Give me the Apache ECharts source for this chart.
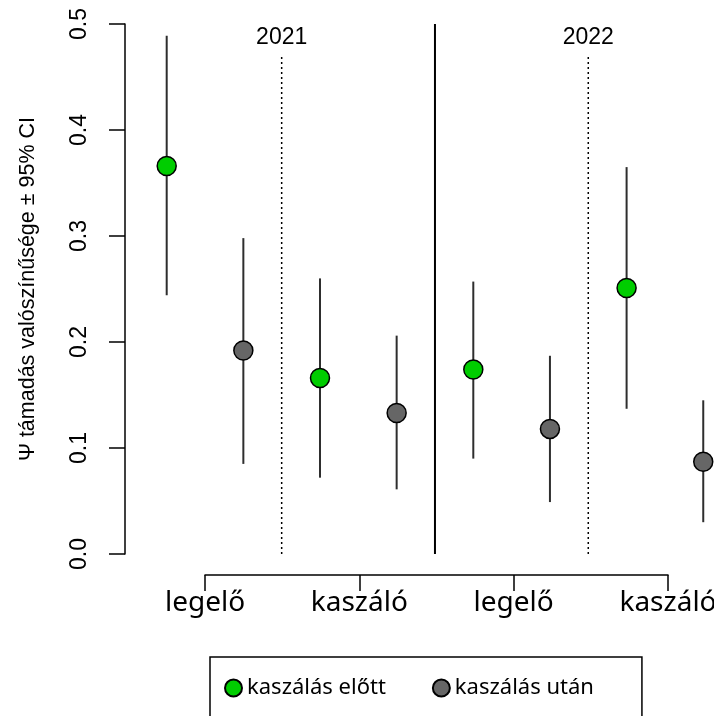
<!DOCTYPE html>
<html>
<head>
<meta charset="utf-8">
<script src="https://cdn.jsdelivr.net/npm/echarts@6/dist/echarts.min.js"></script>
<style>
  html, body { margin: 0; padding: 0; background: #fff; }
  #chart { width: 714px; height: 716px; }
</style>
</head>
<body>
<div id="chart"></div>
<script>
// Occupancy (Ψ) estimates with 95% CI, before / after mowing,
// for pasture (legelő) and meadow (kaszáló) plots in two years.
const years = ['2021', '2022'];
const habitats = ['legelő', 'kaszáló', 'legelő', 'kaszáló'];
const groupNames = ['kaszálás előtt', 'kaszálás után'];

const psiBefore = [0.366, 0.166, 0.174, 0.251];
const lowBefore = [0.244, 0.072, 0.090, 0.137];
const highBefore = [0.489, 0.260, 0.257, 0.365];

const psiAfter = [0.192, 0.133, 0.118, 0.087];
const lowAfter = [0.085, 0.061, 0.049, 0.030];
const highAfter = [0.298, 0.206, 0.187, 0.145];

const yTicks = [0, 0.1, 0.2, 0.3, 0.4, 0.5];

const AXIS_FONT = 'Liberation Sans, Arial, sans-serif';
const LABEL_FONT = 'Noto Sans, DejaVu Sans, sans-serif';
const GREEN = '#00cd00';
const GREY = '#666666';
const OFFSET = 0.25; // horizontal shift of the two groups around each habitat

// habitat i sits at x = i + 1; before/after are shifted left/right
const xPos = (i, g) => i + 1 + (g === 0 ? -OFFSET : OFFSET);

const pointsBefore = psiBefore.map((v, i) => [xPos(i, 0), v]);
const pointsAfter = psiAfter.map((v, i) => [xPos(i, 1), v]);
const barsBefore = psiBefore.map((v, i) => [xPos(i, 0), lowBefore[i], highBefore[i]]);
const barsAfter = psiAfter.map((v, i) => [xPos(i, 1), lowAfter[i], highAfter[i]]);

// separators: dotted between habitats of one year, solid between years
const perYear = habitats.length / years.length;
const separators = [];
for (let k = 1; k < habitats.length; k++) {
  const betweenYears = k % perYear === 0;
  separators.push([k + 0.5, 0, betweenYears ? 0.5 : 0.47, betweenYears ? 0 : 1]);
}
const yearLabels = years.map((y, j) => [j * perYear + (perYear + 1) / 2, 0.487, y]);

function errorBar(params, api) {
  const a = api.coord([api.value(0), api.value(1)]);
  const b = api.coord([api.value(0), api.value(2)]);
  return {
    type: 'line',
    shape: { x1: a[0], y1: a[1], x2: b[0], y2: b[1] },
    style: { stroke: '#2e2e2e', lineWidth: 2 }
  };
}

function separatorLine(params, api) {
  const a = api.coord([api.value(0), api.value(1)]);
  const b = api.coord([api.value(0), api.value(2)]);
  const dotted = api.value(3) === 1;
  return {
    type: 'line',
    shape: { x1: a[0], y1: a[1], x2: b[0], y2: b[1] },
    style: {
      stroke: '#000',
      lineWidth: dotted ? 1.5 : 2,
      lineDash: dotted ? [2, 3] : null
    }
  };
}

function yearText(params, api) {
  const p = api.coord([api.value(0), api.value(1)]);
  return {
    type: 'text',
    x: p[0], y: p[1],
    style: {
      text: yearLabels[params.dataIndex][2],
      font: '23px ' + AXIS_FONT,
      fill: '#000',
      textAlign: 'center',
      textVerticalAlign: 'middle'
    }
  };
}

const chart = echarts.init(document.getElementById('chart'), null, { renderer: 'canvas' });

chart.setOption({
  animation: false,
  backgroundColor: '#fff',
  grid: [
    { left: 125, top: 24, width: 580, height: 530, outerBoundsMode: 'none', containLabel: false },
    { left: 205, top: 574, width: 463, height: 1, outerBoundsMode: 'none', containLabel: false }
  ],
  xAxis: [
    { type: 'value', gridIndex: 0, min: 0.478, max: 0.478 + 580 / 153.3, show: false },
    {
      type: 'category', gridIndex: 1, data: habitats, boundaryGap: false,
      axisLine: { lineStyle: { color: '#000', width: 1.5 } },
      axisTick: { length: 16, lineStyle: { color: '#000', width: 1.5 } },
      axisLabel: { margin: 14, color: '#000', fontSize: 28, fontFamily: LABEL_FONT,
        hideOverlap: false, showMinLabel: true, showMaxLabel: true }
    }
  ],
  yAxis: [
    {
      type: 'value', gridIndex: 0, min: yTicks[0], max: yTicks[yTicks.length - 1],
      interval: yTicks[1] - yTicks[0],
      name: 'Ψ támadás valószínűsége ± 95% CI',
      nameLocation: 'middle', nameGap: 86, nameRotate: 90,
      nameTextStyle: { color: '#000', fontSize: 21.5, fontFamily: AXIS_FONT },
      axisLine: { show: true, lineStyle: { color: '#000', width: 1.5 } },
      axisTick: { show: true, length: 16, lineStyle: { color: '#000', width: 1.5 } },
      axisLabel: {
        rotate: 90, margin: 34, color: '#000', fontSize: 23, fontFamily: AXIS_FONT,
        formatter: v => v.toFixed(1)
      },
      splitLine: { show: false }
    },
    { type: 'value', gridIndex: 1, show: false }
  ],
  legend: {
    left: 210, top: 657,
    orient: 'horizontal',
    data: groupNames,
    icon: 'circle',
    itemWidth: 17, itemHeight: 17, itemGap: 46,
    padding: [20, 48, 40, 14],
    borderColor: '#000', borderWidth: 1.5,
    textStyle: { color: '#000', fontSize: 22, fontFamily: LABEL_FONT }
  },
  series: [
    {
      type: 'custom', name: 'separators', renderItem: separatorLine,
      data: separators, encode: { x: 0, y: [1, 2] }, silent: true, z: 1
    },
    {
      type: 'custom', name: 'years', renderItem: yearText,
      data: yearLabels.map(d => [d[0], d[1]]), encode: { x: 0, y: 1 }, silent: true, z: 1
    },
    {
      type: 'custom', name: 'ci-before', renderItem: errorBar,
      data: barsBefore, encode: { x: 0, y: [1, 2] }, z: 2, clip: false
    },
    {
      type: 'custom', name: 'ci-after', renderItem: errorBar,
      data: barsAfter, encode: { x: 0, y: [1, 2] }, z: 2, clip: false
    },
    {
      type: 'scatter', name: groupNames[0], data: pointsBefore, clip: false,
      symbol: 'circle', symbolSize: 19, z: 3,
      itemStyle: { color: GREEN, borderColor: '#000', borderWidth: 1.5, opacity: 1 }
    },
    {
      type: 'scatter', name: groupNames[1], data: pointsAfter, clip: false,
      symbol: 'circle', symbolSize: 19, z: 3,
      itemStyle: { color: GREY, borderColor: '#000', borderWidth: 1.5, opacity: 1 }
    }
  ]
});
</script>
</body>
</html>
